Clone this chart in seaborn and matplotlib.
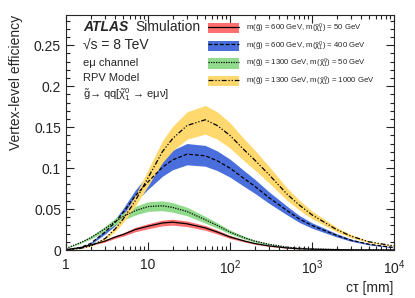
import matplotlib
matplotlib.use("Agg")
import matplotlib.pyplot as plt
import matplotlib.ticker as mticker
import numpy as np
import pandas as pd
import seaborn as sns

sns.set_style("ticks")
plt.rcParams["font.family"] = ["Liberation Sans", "DejaVu Sans"]
plt.rcParams["mathtext.fontset"] = "custom"
plt.rcParams["mathtext.rm"] = "Liberation Sans"
plt.rcParams["mathtext.it"] = "Liberation Sans"
plt.rcParams["mathtext.bf"] = "Liberation Sans:bold"

# ---------------------------------------------------------------------------
# data (c*tau in mm, efficiency)
# ---------------------------------------------------------------------------
ctau = [1, 1.5, 2, 3, 4, 5, 7, 10, 15, 20, 30, 50, 70, 100, 150, 200,
        300, 500, 700, 1000, 2000, 3000, 5000, 10000]

eff_600_50 = [0.0005, 0.003, 0.006, 0.011, 0.016, 0.019, 0.025, 0.029,
              0.033, 0.034, 0.032, 0.027, 0.022, 0.016, 0.011, 0.008,
              0.005, 0.0025, 0.0015, 0.001, 0.0004, 0.0002, 0.0001, 0.0]
err_600_50 = [0.0001, 0.0004, 0.0007, 0.0012, 0.0017, 0.002, 0.0027, 0.0031,
              0.0035, 0.0036, 0.0034, 0.0029, 0.0024, 0.0018, 0.0012, 0.0009,
              0.0006, 0.0003, 0.0002, 0.0001, 0.0001, 0.0, 0.0, 0.0]

eff_600_400 = [0.0, 0.003, 0.008, 0.022, 0.034, 0.046, 0.066, 0.083,
               0.101, 0.110, 0.117, 0.115, 0.109, 0.100, 0.087, 0.078,
               0.064, 0.048, 0.038, 0.030, 0.018, 0.012, 0.007, 0.003]
err_600_400 = [0.0, 0.0004, 0.001, 0.0025, 0.004, 0.005, 0.0072, 0.009,
               0.011, 0.012, 0.013, 0.0127, 0.012, 0.011, 0.0096, 0.0086,
               0.007, 0.0053, 0.0042, 0.0033, 0.002, 0.0013, 0.0008, 0.0004]

eff_1300_50 = [0.002, 0.009, 0.015, 0.026, 0.035, 0.041, 0.048, 0.053,
               0.054, 0.052, 0.047, 0.037, 0.030, 0.022, 0.015, 0.011,
               0.007, 0.0035, 0.0022, 0.0014, 0.0006, 0.0003, 0.0001, 0.0]
err_1300_50 = [0.0003, 0.001, 0.0017, 0.0029, 0.0039, 0.0045, 0.0053, 0.0058,
               0.006, 0.0058, 0.0052, 0.0041, 0.0033, 0.0024, 0.0017, 0.0012,
               0.0008, 0.0004, 0.0003, 0.0002, 0.0001, 0.0, 0.0, 0.0]

eff_1300_1000 = [0.0, 0.002, 0.005, 0.014, 0.026, 0.038, 0.060, 0.088,
                 0.120, 0.136, 0.152, 0.159, 0.152, 0.140, 0.122, 0.110,
                 0.092, 0.068, 0.055, 0.043, 0.025, 0.017, 0.010, 0.005]
err_1300_1000 = [0.0, 0.0003, 0.0006, 0.0016, 0.003, 0.0042, 0.0066, 0.0097,
                 0.0132, 0.015, 0.0167, 0.0175, 0.0167, 0.0154, 0.0134, 0.0121,
                 0.0101, 0.0075, 0.006, 0.0047, 0.0028, 0.0019, 0.0011, 0.0006]

labels = [
    r"m($\tilde{g}$) = 600 GeV, m($\tilde{\chi}_1^0$) = 50 GeV",
    r"m($\tilde{g}$) = 600 GeV, m($\tilde{\chi}_1^0$) = 400 GeV",
    r"m($\tilde{g}$) = 1300 GeV, m($\tilde{\chi}_1^0$) = 50 GeV",
    r"m($\tilde{g}$) = 1300 GeV, m($\tilde{\chi}_1^0$) = 1000 GeV",
]
band_colors = ["#ff6f6f", "#4a6fdc", "#90dc8c", "#ffd96e"]
line_styles = ["-", (0, (3, 1.6)), (0, (1, 1)), (0, (4, 1.5, 1, 1.5, 1, 1.5))]

# ---------------------------------------------------------------------------
# plot
# ---------------------------------------------------------------------------
fig = plt.figure(figsize=(4.15, 2.98), dpi=100)
ax = fig.add_axes([0.159, 0.161, 0.790, 0.789])

series = [(eff_600_50, err_600_50), (eff_600_400, err_600_400),
          (eff_1300_50, err_1300_50), (eff_1300_1000, err_1300_1000)]

handles = []
for (eff, err), lab, col, ls in zip(series, labels, band_colors, line_styles):
    df = pd.DataFrame({"ctau": ctau, "eff": eff, "err": err})
    band = ax.fill_between(df["ctau"], df["eff"] - df["err"], df["eff"] + df["err"],
                           color=col, lw=0)
    sns.lineplot(data=df, x="ctau", y="eff", ax=ax, color="black",
                 linestyle=ls, linewidth=0.9)
    line = ax.lines[-1]
    handles.append((band, line))

ax.set_xscale("log")
ax.set_xlim(1, 1e4)
ax.set_ylim(0, 0.287)
ax.yaxis.set_major_locator(mticker.MultipleLocator(0.05))
ax.yaxis.set_minor_locator(mticker.MultipleLocator(0.01))
ax.yaxis.set_major_formatter(mticker.FuncFormatter(lambda v, _: f"{v:g}"))
ax.xaxis.set_major_formatter(mticker.FuncFormatter(
    lambda v, _: {1: "1", 10: "10"}.get(int(round(v)), r"$10^{%d}$" % round(np.log10(v)))))
ax.xaxis.set_minor_locator(mticker.LogLocator(base=10, subs=np.arange(2, 10)))
ax.xaxis.set_minor_formatter(mticker.NullFormatter())

ax.tick_params(which="both", direction="in", top=True, right=True, width=0.8,
               labelsize=10, colors="#222222")
ax.tick_params(which="major", length=6)
ax.tick_params(which="minor", length=3)
ax.tick_params(axis="x", pad=6)
for s in ax.spines.values():
    s.set_linewidth(0.8)

ax.set_xlabel("cτ [mm]", fontsize=10, loc="right", labelpad=3)
ax.set_ylabel("Vertex-level efficiency", fontsize=10, loc="top", labelpad=8)

# ATLAS labels
ax.text(0.052, 0.947, "ATLAS", transform=ax.transAxes, fontsize=10,
        fontweight="bold", fontstyle="italic", va="center")
ax.text(0.213, 0.947, "Simulation", transform=ax.transAxes, fontsize=10, va="center")
ax.text(0.052, 0.870, "√s = 8 TeV", transform=ax.transAxes, fontsize=10, va="center")
ax.text(0.052, 0.797, "eμ channel", transform=ax.transAxes, fontsize=8, va="center")
ax.text(0.052, 0.733, "RPV Model", transform=ax.transAxes, fontsize=8, va="center")
ax.text(0.052, 0.662,
        r"$\tilde{\mathrm{g}}$→ qq[$\tilde{\chi}_1^0$ → eμν]",
        transform=ax.transAxes, fontsize=8, va="center")

ax.legend(handles, labels, loc="upper right", bbox_to_anchor=(0.955, 0.99),
          frameon=False, fontsize=5.6, handlelength=4.0, handleheight=1.7,
          handletextpad=0.9, labelspacing=0.55, borderaxespad=0.2)

fig.savefig("out.png", dpi=100)
